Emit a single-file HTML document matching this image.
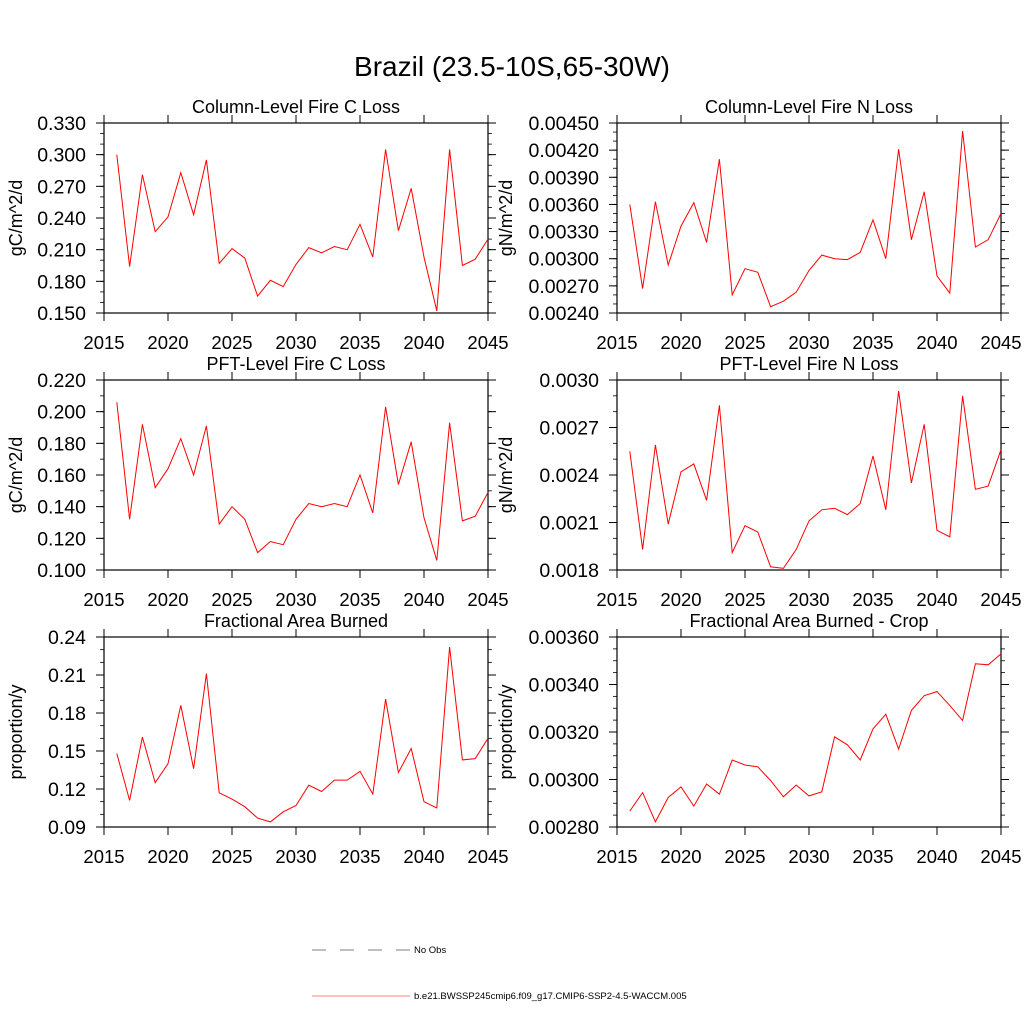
<!DOCTYPE html>
<html><head><meta charset="utf-8"><style>
html,body{margin:0;padding:0;background:#fff;}
svg{display:block;font-family:"Liberation Sans",sans-serif;}
</style></head><body>
<svg id="c" width="1024" height="1024" viewBox="0 0 1024 1024" xmlns="http://www.w3.org/2000/svg">
<text x="512" y="76" text-anchor="middle" font-size="28">Brazil (23.5-10S,65-30W)</text>
<g>
<line x1="312" y1="950" x2="410" y2="950" stroke="#000" stroke-width="0.6" stroke-dasharray="14,14"/>
<text x="414" y="953" font-size="9.5">No Obs</text>
<line x1="312" y1="996" x2="410" y2="996" stroke="#f00" stroke-width="0.6"/>
<text x="414" y="999" font-size="9.5">b.e21.BWSSP245cmip6.f09_g17.CMIP6-SSP2-4.5-WACCM.005</text>
</g>
</svg>
<script>
const years = [2016,2017,2018,2019,2020,2021,2022,2023,2024,2025,2026,2027,2028,2029,2030,2031,2032,2033,2034,2035,2036,2037,2038,2039,2040,2041,2042,2043,2044,2045];
const xTicks = [2015,2020,2025,2030,2035,2040,2045];
const colCLoss = [0.300,0.194,0.281,0.227,0.241,0.283,0.243,0.295,0.197,0.211,0.202,0.166,0.181,0.175,0.196,0.212,0.207,0.213,0.210,0.234,0.203,0.305,0.228,0.268,0.203,0.152,0.305,0.195,0.201,0.220];
const colNLoss = [0.00360,0.00267,0.00363,0.00293,0.00336,0.00362,0.00318,0.00410,0.00260,0.00289,0.00285,0.00247,0.00253,0.00263,0.00287,0.00304,0.00300,0.00299,0.00307,0.00343,0.00300,0.00421,0.00321,0.00374,0.00281,0.00262,0.00441,0.00313,0.00321,0.00350];
const pftCLoss = [0.206,0.132,0.192,0.152,0.164,0.183,0.160,0.191,0.129,0.140,0.132,0.111,0.118,0.116,0.132,0.142,0.140,0.142,0.140,0.160,0.136,0.203,0.154,0.181,0.133,0.106,0.193,0.131,0.134,0.149];
const pftNLoss = [0.00255,0.00193,0.00259,0.00209,0.00242,0.00247,0.00224,0.00284,0.00191,0.00208,0.00204,0.00182,0.00181,0.00193,0.00211,0.00218,0.00219,0.00215,0.00222,0.00252,0.00218,0.00293,0.00235,0.00272,0.00205,0.00201,0.00290,0.00231,0.00233,0.00256];
const areaBurned = [0.148,0.111,0.161,0.125,0.140,0.186,0.136,0.211,0.117,0.112,0.106,0.097,0.094,0.102,0.107,0.123,0.118,0.127,0.127,0.134,0.116,0.191,0.133,0.152,0.110,0.105,0.232,0.143,0.144,0.160];
const areaBurnedCrop = [0.002867,0.002945,0.002822,0.002924,0.002969,0.002888,0.002981,0.002938,0.003082,0.003061,0.003053,0.002996,0.002927,0.002977,0.002931,0.002948,0.003180,0.003146,0.003082,0.003213,0.003275,0.003128,0.003291,0.003353,0.003370,0.003311,0.003249,0.003487,0.003483,0.003529];
const yTicks1 = ["0.150","0.180","0.210","0.240","0.270","0.300","0.330"];
const yTicks2 = ["0.00240","0.00270","0.00300","0.00330","0.00360","0.00390","0.00420","0.00450"];
const yTicks3 = ["0.100","0.120","0.140","0.160","0.180","0.200","0.220"];
const yTicks4 = ["0.0018","0.0021","0.0024","0.0027","0.0030"];
const yTicks5 = ["0.09","0.12","0.15","0.18","0.21","0.24"];
const yTicks6 = ["0.00280","0.00300","0.00320","0.00340","0.00360"];

const NS="http://www.w3.org/2000/svg";
const svg=document.getElementById('c');
function mk(tag,attrs,parent){const e=document.createElementNS(NS,tag);for(const k in attrs)e.setAttribute(k,attrs[k]);(parent||svg).appendChild(e);return e;}

const panels=[
 {id:'col-c',title:'Column-Level Fire C Loss',yt:'gC/m^2/d',x0:104,x1:488,y0:123,y1:313,ymin:0.15,ymax:0.33,minor:0.01,ticks:yTicks1,data:colCLoss,yto:88},
 {id:'col-n',title:'Column-Level Fire N Loss',yt:'gN/m^2/d',x0:617,x1:1001,y0:123,y1:313,ymin:0.0024,ymax:0.0045,minor:0.0001,ticks:yTicks2,data:colNLoss,yto:111},
 {id:'pft-c',title:'PFT-Level Fire C Loss',yt:'gC/m^2/d',x0:104,x1:488,y0:380,y1:570,ymin:0.10,ymax:0.22,minor:0.01,ticks:yTicks3,data:pftCLoss,yto:88},
 {id:'pft-n',title:'PFT-Level Fire N Loss',yt:'gN/m^2/d',x0:617,x1:1001,y0:380,y1:570,ymin:0.0018,ymax:0.0030,minor:0.0001,ticks:yTicks4,data:pftNLoss,yto:111},
 {id:'area',title:'Fractional Area Burned',yt:'proportion/y',x0:104,x1:488,y0:637,y1:827,ymin:0.09,ymax:0.24,minor:0.01,ticks:yTicks5,data:areaBurned,yto:88},
 {id:'crop',title:'Fractional Area Burned - Crop',yt:'proportion/y',x0:617,x1:1001,y0:637,y1:827,ymin:0.0028,ymax:0.0036,minor:0.00005,ticks:yTicks6,data:areaBurnedCrop,yto:111}
];

panels.forEach(p=>{
 const g=mk('g',{});
 
 
 const xs=v=>p.x0+(v-2015)/(2045-2015)*(p.x1-p.x0);
 const ys=v=>p.y1-(v-p.ymin)/(p.ymax-p.ymin)*(p.y1-p.y0);
 const fr=mk('rect',{x:p.x0,y:p.y0,width:p.x1-p.x0,height:p.y1-p.y0,fill:'none',stroke:'#000','stroke-width':1.2},g);
 
 
 const t=mk('text',{x:(p.x0+p.x1)/2,y:p.y0-10,'text-anchor':'middle','font-size':18},g);
 t.textContent=p.title;
 
 
 const yl=mk('text',{x:0,y:0,'text-anchor':'middle','font-size':18,transform:`translate(${p.x0-p.yto+6},${(p.y0+p.y1)/2}) rotate(-90)`},g);
 yl.textContent=p.yt;
 
 
 xTicks.forEach(v=>{
  const x=xs(v);
  mk('line',{x1:x,y1:p.y1,x2:x,y2:p.y1+8,stroke:'#000','stroke-width':1},g);
  mk('line',{x1:x,y1:p.y0,x2:x,y2:p.y0-8,stroke:'#000','stroke-width':1},g);
  const tl=mk('text',{x:x,y:p.y1+36,'text-anchor':'middle','font-size':18.5},g);
  tl.textContent=v;
  
  
 });
 const n=Math.round((p.ymax-p.ymin)/p.minor);
 for(let i=0;i<=n;i++){
  const y=ys(p.ymin+i*p.minor);
  mk('line',{x1:p.x0,y1:y,x2:p.x0-4,y2:y,stroke:'#000','stroke-width':0.8},g);
  mk('line',{x1:p.x1,y1:y,x2:p.x1+4,y2:y,stroke:'#000','stroke-width':0.8},g);
 }
 p.ticks.forEach(s=>{
  const y=ys(parseFloat(s));
  mk('line',{x1:p.x0,y1:y,x2:p.x0-8,y2:y,stroke:'#000','stroke-width':1},g);
  mk('line',{x1:p.x1,y1:y,x2:p.x1+8,y2:y,stroke:'#000','stroke-width':1},g);
  const tl=mk('text',{x:p.x0-18,y:y+7,'text-anchor':'end','font-size':19.5},g);
  tl.textContent=s;
  
  
 });
 const pts=p.data.map((v,i)=>xs(years[i]).toFixed(1)+','+ys(v).toFixed(1)).join(' ');
 const ln=mk('polyline',{points:pts,fill:'none',stroke:'#f00','stroke-width':1},g);
 
 
});
</script>
</body></html>
